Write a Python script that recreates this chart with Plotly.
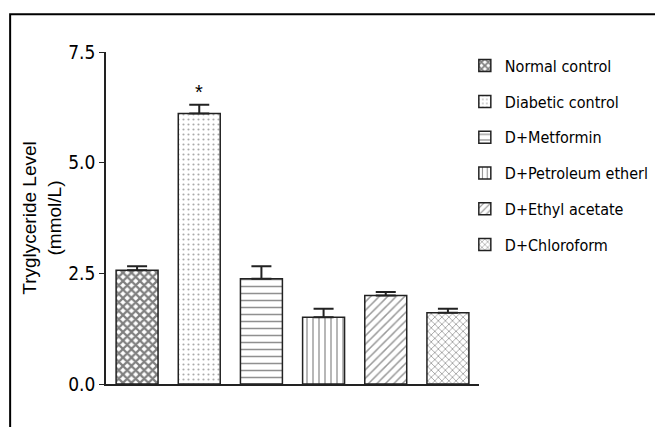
import plotly.graph_objects as go

groups = ["Normal control", "Diabetic control", "D+Metformin",
          "D+Petroleum etherl", "D+Ethyl acetate", "D+Chloroform"]
means = [2.57, 6.11, 2.38, 1.51, 2.00, 1.61]
errors = [0.09, 0.20, 0.28, 0.19, 0.08, 0.09]
y_ticks = [0.0, 2.5, 5.0, 7.5]
y_tick_labels = ["0.0", "2.5", "5.0", "7.5"]

patterns = [
    dict(shape="x", size=6, solidity=0.6, fgcolor="#000000", bgcolor="white"),
    dict(shape=".", size=5, solidity=0.15, fgcolor="#555555", bgcolor="white"),
    dict(shape="-", size=7, solidity=0.22, fgcolor="#222222", bgcolor="white"),
    dict(shape="|", size=6, solidity=0.22, fgcolor="#222222", bgcolor="white"),
    dict(shape="/", size=6, solidity=0.25, fgcolor="#333333", bgcolor="white"),
    dict(shape="x", size=5, solidity=0.32, fgcolor="#444444", bgcolor="white"),
]

narrow = "DejaVu Sans Condensed, Liberation Sans Narrow, Arial Narrow, sans-serif"

fig = go.Figure()
for i, g in enumerate(groups):
    fig.add_trace(go.Bar(
        x=[g], y=[means[i]], name=g, legendgroup=g,
        width=0.675,
        marker=dict(color="white", pattern=patterns[i],
                    line=dict(color="#222222", width=1.5)),
        error_y=dict(type="data", array=[errors[i]], arrayminus=[0],
                     symmetric=False, color="#222222", thickness=2, width=10),
    ))

fig.add_annotation(x=groups[1], y=means[1] + errors[1], text="*",
                   showarrow=False, yanchor="bottom", yshift=0,
                   font=dict(family="Liberation Sans, Arial", size=20, color="black"))

# outer frame
fig.add_shape(type="rect", xref="paper", yref="paper",
              x0=-0.257, x1=1.6, y0=-0.3, y1=1.114,
              line=dict(color="black", width=2), fillcolor="rgba(0,0,0,0)")

fig.update_layout(
    width=655, height=419,
    margin=dict(l=98, r=184, t=44, b=43, autoexpand=False),
    paper_bgcolor="white", plot_bgcolor="white",
    barmode="overlay",
    showlegend=True,
    legend=dict(x=0.962, y=1.01, xanchor="left", yanchor="top",
                font=dict(family=narrow, size=16, color="black"),
                tracegroupgap=12, traceorder="grouped",
                itemwidth=30, maxheight=400,
                bgcolor="rgba(0,0,0,0)"),
    xaxis=dict(showticklabels=False, ticks="", showline=True,
               linecolor="#222222", linewidth=1.5, showgrid=False,
               zeroline=False),
    yaxis=dict(range=[0, 7.5], tickvals=y_ticks, ticktext=y_tick_labels,
               ticks="outside", ticklen=5, tickcolor="#222222",
               showline=True, linecolor="#222222", linewidth=1.5,
               showgrid=False, zeroline=False,
               tickfont=dict(family=narrow, size=19, color="black"),
               title=dict(text="Tryglyceride Level<br>(mmol/L)",
                          font=dict(family="Liberation Sans, Arial", size=19, color="black"),
                          standoff=2)),
)

fig.write_html("out.html")
